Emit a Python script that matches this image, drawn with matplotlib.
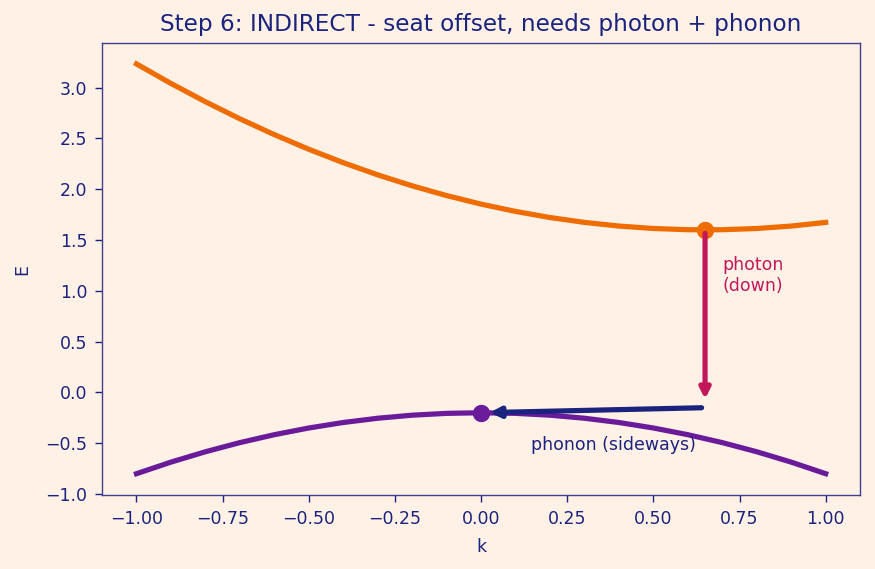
import matplotlib
matplotlib.use("Agg")
import matplotlib.pyplot as plt

# data
k = [-1.0, -0.9, -0.8, -0.7, -0.6, -0.5, -0.4, -0.3, -0.2, -0.1, 0.0,
     0.1, 0.2, 0.3, 0.4, 0.5, 0.6, 0.7, 0.8, 0.9, 1.0]
E_cond = [3.234, 3.042, 2.862, 2.694, 2.538, 2.394, 2.262, 2.142, 2.034, 1.938, 1.854,
          1.782, 1.722, 1.674, 1.638, 1.614, 1.602, 1.602, 1.614, 1.638, 1.674]
E_val = [-0.800, -0.686, -0.584, -0.494, -0.416, -0.350, -0.296, -0.254, -0.224, -0.206, -0.200,
         -0.206, -0.224, -0.254, -0.296, -0.350, -0.416, -0.494, -0.584, -0.686, -0.800]
cb_min = (0.65, 1.6)
vb_max = (0.0, -0.2)
photon_end = (0.65, -0.1)
phonon_start = (0.65, -0.15)

BG = "#fff1e6"
NAVY = "#1a237e"
ORANGE = "#ef6c00"
PURPLE = "#6a1b9a"
CRIMSON = "#c2185b"
SPINE = "#3f4190"

fig, ax = plt.subplots(figsize=(7, 4.552), dpi=125)
fig.patch.set_facecolor(BG)
ax.set_facecolor(BG)

ax.plot(k, E_cond, color=ORANGE, lw=3)
ax.plot(k, E_val, color=PURPLE, lw=3)
ax.plot(*cb_min, "o", color=ORANGE, ms=9)
ax.plot(*vb_max, "o", color=PURPLE, ms=9)

ax.annotate("", xy=photon_end, xytext=cb_min,
            arrowprops=dict(arrowstyle="-|>", lw=3, color=CRIMSON, mutation_scale=12))
ax.annotate("", xy=vb_max, xytext=phonon_start,
            arrowprops=dict(arrowstyle="-|>", lw=3, color=NAVY, mutation_scale=12, shrinkB=5))

ax.text(0.70, 1.15, "photon\n(down)", color=CRIMSON, fontsize=10, va="center", ha="left")
ax.text(0.145, -0.52, "phonon (sideways)", color=NAVY, fontsize=10, va="center", ha="left")

ax.set_title("Step 6: INDIRECT - seat offset, needs photon + phonon", color=NAVY, fontsize=13.4, pad=7)
ax.set_xlabel("k", color=NAVY, labelpad=6)
ax.set_ylabel("E", color=NAVY, labelpad=8)
ax.set_xticks([-1.0, -0.75, -0.5, -0.25, 0.0, 0.25, 0.5, 0.75, 1.0])
ax.set_yticks([-1.0, -0.5, 0.0, 0.5, 1.0, 1.5, 2.0, 2.5, 3.0])
ax.set_ylim(-1.01, 3.44)
ax.set_xlim(-1.1, 1.1)
ax.tick_params(colors=NAVY, which="both", pad=4.5, length=4)
for s in ax.spines.values():
    s.set_color(SPINE)

fig.subplots_adjust(left=0.1166, right=0.983, top=0.9244, bottom=0.130)
fig.savefig("out.png", dpi=125, facecolor=BG)
